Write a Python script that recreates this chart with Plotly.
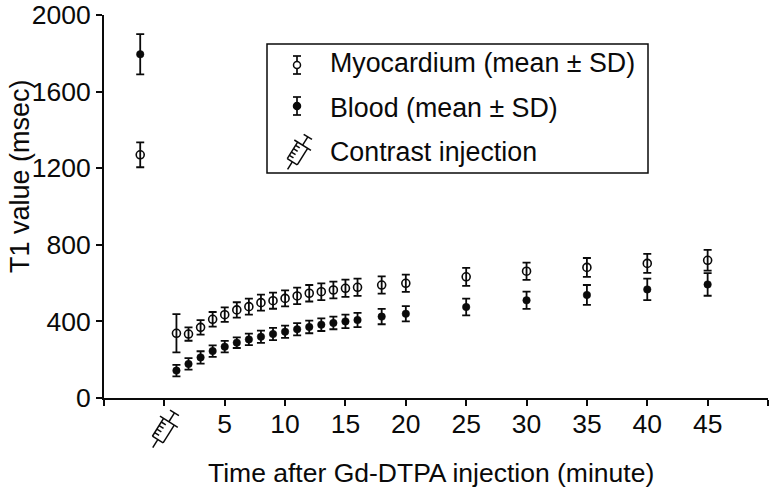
import math
import plotly.graph_objects as go

minutes = [-2, 1, 2, 3, 4, 5, 6, 7, 8, 9, 10, 11, 12, 13, 14, 15, 16, 18, 20, 25, 30, 35, 40, 45]
myocardium = [1270, 338, 334, 369, 411, 435, 460, 477, 498, 508, 520, 533, 547, 555, 564, 573, 578, 590, 599, 633, 662, 682, 703, 719]
myocardium_sd = [65, 100, 35, 38, 38, 38, 40, 42, 42, 42, 42, 43, 43, 44, 44, 45, 45, 45, 45, 47, 45, 49, 50, 54]
blood = [1795, 143, 178, 212, 245, 268, 289, 306, 320, 334, 346, 359, 371, 383, 392, 400, 407, 425, 440, 475, 510, 538, 567, 593]
blood_sd = [105, 30, 30, 32, 30, 30, 28, 30, 32, 32, 32, 32, 33, 33, 33, 35, 37, 40, 40, 44, 45, 52, 56, 59]
x_ticks = [-5, 0, 5, 10, 15, 20, 25, 30, 35, 40, 45, 50]
x_labels = ["", "", "5", "10", "15", "20", "25", "30", "35", "40", "45", ""]
y_ticks = [0, 400, 800, 1200, 1600, 2000]
legend_labels = ["Myocardium (mean ± SD)", "Blood (mean ± SD)", "Contrast injection"]
x_title = "Time after Gd-DTPA injection (minute)"
y_title = "T1 value (msec)"

W, H = 776, 495
L, R, T, B = 104, 768, 15, 398
FONT = "Liberation Sans, Arial, sans-serif"
INK = "#0a0a0a"
SIZE = 26.5

fig = go.Figure()
fig.add_trace(go.Scatter(x=minutes, y=blood, mode="markers", name="Blood",
    marker=dict(symbol="circle", size=7.5, color=INK, line=dict(color=INK, width=0.5)),
    error_y=dict(type="data", array=blood_sd, thickness=1.8, width=4, color=INK)))
fig.add_trace(go.Scatter(x=minutes, y=myocardium, mode="markers", name="Myocardium",
    marker=dict(symbol="circle-open", size=8, color=INK, line=dict(color=INK, width=1.6)),
    error_y=dict(type="data", array=myocardium_sd, thickness=1.8, width=4, color=INK)))

def px(x): return (x - L) / (R - L)
def py(y): return (B - y) / (B - T)

shapes = []
def line(x0, y0, x1, y1, w=1.6):
    shapes.append(dict(type="line", xref="paper", yref="paper", x0=px(x0), y0=py(y0), x1=px(x1), y1=py(y1),
                       line=dict(color=INK, width=w)))

def syringe(cx, cy, s=1.0, w=1.5):
    a = math.radians(-58)
    ca, sa = math.cos(a), math.sin(a)
    def P(u, v):
        return cx + s * (u * ca - v * sa), cy + s * (u * sa + v * ca)
    def seg(u0, v0, u1, v1):
        x0, y0 = P(u0, v0); x1, y1 = P(u1, v1)
        line(x0, y0, x1, y1, w)
    seg(-22, 0, -13, 0)
    seg(-13, -6, 7, -6); seg(-13, 6, 7, 6); seg(-13, -6, -13, 6)
    seg(7, -10, 7, 10)
    seg(7, 0, 17, 0); seg(17, -5, 17, 5)
    for u in (-9, -5, -1, 3):
        seg(u, -6, u, -1)

# legend frame
shapes.append(dict(type="rect", xref="paper", yref="paper", x0=px(267), x1=px(648), y0=py(173), y1=py(44),
                   line=dict(color=INK, width=1.5), fillcolor="white", layer="below"))
# legend symbols
for cy, filled in ((65, False), (106, True)):
    line(297, cy - 9, 297, cy + 9, 1.7)
    line(293, cy - 9, 301, cy - 9, 1.7)
    line(293, cy + 9, 301, cy + 9, 1.7)
    r = 3.5
    shapes.append(dict(type="circle", xref="paper", yref="paper", x0=px(297 - r), x1=px(297 + r),
                       y0=py(cy + r), y1=py(cy - r), line=dict(color=INK, width=1.5),
                       fillcolor=INK if filled else "white"))
syringe(299, 151, 0.98)
syringe(165, 428, 1.05)

annotations = []
for label, cy in zip(legend_labels, (63, 108, 152)):
    annotations.append(dict(text=label, xref="paper", yref="paper", x=px(328), y=py(cy), xanchor="left",
                            yanchor="middle", showarrow=False, font=dict(family=FONT, size=26.8, color=INK)))
annotations.append(dict(text=x_title, xref="paper", yref="paper", x=px(431), y=py(473), xanchor="center",
                        yanchor="middle", showarrow=False, font=dict(family=FONT, size=SIZE, color=INK)))
annotations.append(dict(text=y_title, xref="paper", yref="paper", x=px(19.5), y=py(176.5), xanchor="center",
                        yanchor="middle", textangle=-90, showarrow=False, font=dict(family=FONT, size=27, color=INK)))

fig.update_layout(
    width=W, height=H, autosize=False, showlegend=False,
    paper_bgcolor="white", plot_bgcolor="white",
    margin=dict(l=L, r=W - R, t=T, b=H - B, pad=0),
    font=dict(family=FONT, size=SIZE, color=INK),
    shapes=shapes, annotations=annotations,
    xaxis=dict(range=[-5, 50], tickmode="array", tickvals=x_ticks, ticktext=x_labels, automargin=False,
               showgrid=False, zeroline=False, showline=True, linecolor=INK, linewidth=2,
               ticks="outside", ticklen=6, tickwidth=2, tickcolor=INK, tickfont=dict(size=SIZE),
               ticklabelstandoff=-5),
    yaxis=dict(range=[0, 2000], tickmode="array", tickvals=y_ticks, automargin=False,
               showgrid=False, zeroline=False, showline=True, linecolor=INK, linewidth=2,
               ticks="outside", ticklen=6, tickwidth=2, tickcolor=INK, tickfont=dict(size=SIZE)),
)
fig.write_html("out.html", config={"displayModeBar": False},
               post_script="document.body.style.margin='0';document.body.style.overflow='hidden';")
